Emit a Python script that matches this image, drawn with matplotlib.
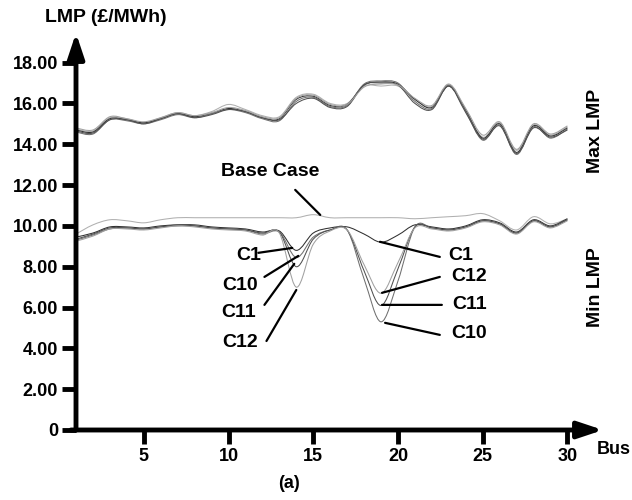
import matplotlib.pyplot as plt
from matplotlib.path import Path
from matplotlib.patches import PathPatch

plt.rcParams['font.family'] = ['Liberation Sans', 'DejaVu Sans']
plt.rcParams['font.weight'] = 'bold'

buses = list(range(1, 31))

# Max LMP curves (base case and contingencies)
max_base = [14.75, 14.65, 15.3, 15.25, 15.05, 15.3, 15.55, 15.4, 15.6, 15.95,
            15.7, 15.4, 15.35, 16.3, 16.45, 16.0, 16.0, 16.85, 16.85, 16.85,
            16.2, 15.85, 16.9, 15.7, 14.35, 15.05, 13.7, 14.95, 14.45, 14.85]
max_c1 = [14.7, 14.6, 15.25, 15.2, 15.05, 15.25, 15.5, 15.35, 15.5, 15.75,
          15.6, 15.3, 15.25, 16.2, 16.35, 15.9, 15.95, 16.9, 17.05, 16.95,
          16.2, 15.8, 16.85, 15.65, 14.3, 15.0, 13.6, 14.9, 14.4, 14.8]
max_c10 = [14.6, 14.5, 15.2, 15.15, 15.0, 15.2, 15.45, 15.3, 15.5, 15.7,
           15.55, 15.25, 15.15, 16.1, 16.3, 15.85, 15.9, 16.95, 17.1, 17.0,
           16.1, 15.75, 16.9, 15.6, 14.2, 14.95, 13.5, 14.85, 14.3, 14.75]
max_c11 = [14.65, 14.55, 15.2, 15.2, 15.0, 15.25, 15.5, 15.3, 15.45, 15.7,
           15.6, 15.3, 15.2, 16.0, 16.25, 15.8, 15.85, 16.9, 17.0, 16.9,
           16.0, 15.7, 16.85, 15.55, 14.25, 14.9, 13.55, 14.8, 14.35, 14.7]
max_c12 = [14.8, 14.7, 15.35, 15.25, 15.1, 15.3, 15.55, 15.4, 15.55, 15.8,
           15.65, 15.35, 15.3, 16.25, 16.4, 15.95, 15.95, 16.8, 16.95, 16.9,
           16.25, 15.9, 16.95, 15.75, 14.45, 15.1, 13.75, 15.0, 14.5, 14.9]

# Min LMP curves
min_base = [9.6, 10.05, 10.3, 10.25, 10.15, 10.3, 10.4, 10.4, 10.4, 10.4,
            10.4, 10.4, 10.4, 10.4, 10.55, 10.4, 10.4, 10.4, 10.4, 10.4,
            10.35, 10.4, 10.45, 10.5, 10.6, 10.25, 9.8, 10.45, 10.1, 10.35]
min_c1 = [9.45, 9.65, 9.95, 9.95, 9.9, 10.0, 10.05, 10.05, 9.95, 9.9,
          9.85, 9.7, 9.75, 8.8, 9.65, 9.9, 9.95, 9.6, 9.2, 9.55,
          10.05, 9.95, 9.85, 10.0, 10.3, 10.15, 9.7, 10.3, 10.0, 10.35]
min_c10 = [9.3, 9.55, 9.85, 9.9, 9.85, 9.95, 10.0, 10.0, 9.9, 9.85,
           9.8, 9.6, 9.7, 8.45, 9.45, 9.8, 9.8, 7.4, 5.3, 7.3,
           9.95, 9.9, 9.8, 9.95, 10.25, 10.1, 9.65, 10.25, 9.95, 10.3]
min_c11 = [9.35, 9.6, 9.9, 9.9, 9.85, 9.95, 10.05, 10.0, 9.9, 9.85,
           9.8, 9.65, 9.7, 8.0, 9.35, 9.8, 9.8, 7.8, 6.1, 7.9,
           9.95, 9.9, 9.8, 9.95, 10.25, 10.1, 9.65, 10.25, 9.95, 10.3]
min_c12 = [9.25, 9.5, 9.85, 9.85, 9.8, 9.9, 10.0, 9.95, 9.85, 9.8,
           9.75, 9.55, 9.65, 7.0, 9.1, 9.75, 9.8, 8.1, 6.7, 8.2,
           9.9, 9.85, 9.75, 9.9, 10.2, 10.05, 9.6, 10.2, 9.9, 10.25]

yticks = [0, 2, 4, 6, 8, 10, 12, 14, 16, 18]
ytick_labels = ['0', '2.00', '4.00', '6.00', '8.00', '10.00', '12.00', '14.00', '16.00', '18.00']
xticks = [5, 10, 15, 20, 25, 30]


def smooth_path(x, y):
    # Excel-style smoothed line (Catmull-Rom drawn as cubic Bezier)
    verts = [(x[0], y[0])]
    codes = [Path.MOVETO]
    n = len(x)
    for i in range(n - 1):
        a = i - 1 if i > 0 else i
        d = i + 2 if i + 2 < n else i + 1
        c1 = (x[i] + (x[i + 1] - x[a]) / 6, y[i] + (y[i + 1] - y[a]) / 6)
        c2 = (x[i + 1] - (x[d] - x[i]) / 6, y[i + 1] - (y[d] - y[i]) / 6)
        verts += [c1, c2, (x[i + 1], y[i + 1])]
        codes += [Path.CURVE4] * 3
    return Path(verts, codes)


fig = plt.figure(figsize=(6.32, 5), dpi=100)
ax = fig.add_axes([76 / 632, 70 / 500, (603 - 76) / 632, (430 - 33) / 500])
ax.set_xlim(1, 32.1)
ax.set_ylim(0, 19.45)

colors = ['#b0b0b0', '#303030', '#707070', '#505050', '#a0a0a0']
series = [(max_base, min_base), (max_c1, min_c1), (max_c10, min_c10),
          (max_c11, min_c11), (max_c12, min_c12)]
for (mx, mn), c in zip(series, colors):
    for ys in (mx, mn):
        ax.add_patch(PathPatch(smooth_path(buses, ys), fill=False,
                               edgecolor=c, lw=0.75, zorder=2))

for s in ax.spines.values():
    s.set_visible(False)

arrow = dict(arrowstyle='-|>,head_length=0.75,head_width=0.25', lw=3.5,
             color='black', mutation_scale=20, shrinkA=0, shrinkB=0)
ax.annotate('', xy=(1, 19.45), xytext=(1, 0), arrowprops=arrow,
            annotation_clip=False, zorder=5)
ax.annotate('', xy=(32.1, 0), xytext=(0.7, 0), arrowprops=arrow,
            annotation_clip=False, zorder=5)

ax.set_yticks(yticks)
ax.set_yticklabels(ytick_labels)
ax.set_xticks(xticks)
ax.tick_params(direction='out', length=10, width=3.5, labelsize=13, pad=3)
for lab in ax.get_xticklabels() + ax.get_yticklabels():
    lab.set_fontweight('bold')

# annotations
lw_ann = 1.6
ax.text(12.47, 12.65, 'Base Case', fontsize=14, ha='center', va='center')
ax.annotate('', xy=(15.53, 10.44), xytext=(13.82, 11.86),
            arrowprops=dict(arrowstyle='-', lw=lw_ann, color='black'))

labels = [('C1', (11.18, 8.53), (11.76, 8.68), (13.76, 8.92)),
          ('C10', (10.7, 7.1), (12.12, 7.5), (14.12, 8.53)),
          ('C11', (10.6, 5.74), (12.12, 6.13), (13.88, 8.14)),
          ('C12', (10.7, 4.31), (12.24, 4.36), (14.0, 6.86)),
          ('C1', (23.7, 8.53), (22.47, 8.48), (18.94, 9.22)),
          ('C12', (24.2, 7.5), (22.47, 7.5), (19.06, 6.72)),
          ('C11', (24.2, 6.13), (22.59, 6.13), (19.06, 6.13)),
          ('C10', (24.2, 4.75), (22.47, 4.66), (19.24, 5.25))]
for name, tpos, start, end in labels:
    ax.text(tpos[0], tpos[1], name, fontsize=14, ha='center', va='center')
    ax.annotate('', xy=end, xytext=start,
                arrowprops=dict(arrowstyle='-', lw=lw_ann, color='black',
                                shrinkA=0, shrinkB=0))

fig.text(106 / 632, 1 - 18 / 500, 'LMP (£/MWh)', fontsize=14, ha='center', va='center')
fig.text(597 / 632, 1 - 450 / 500, 'Bus', fontsize=13, ha='left', va='center')
fig.text(289 / 632, 1 - 483 / 500, '(a)', fontsize=13, ha='center', va='center')
fig.text(595 / 632, 1 - 131 / 500, 'Max LMP', fontsize=14, rotation=90, ha='center', va='center')
fig.text(595 / 632, 1 - 287 / 500, 'Min LMP', fontsize=14, rotation=90, ha='center', va='center')

fig.savefig('out.png', dpi=100)
